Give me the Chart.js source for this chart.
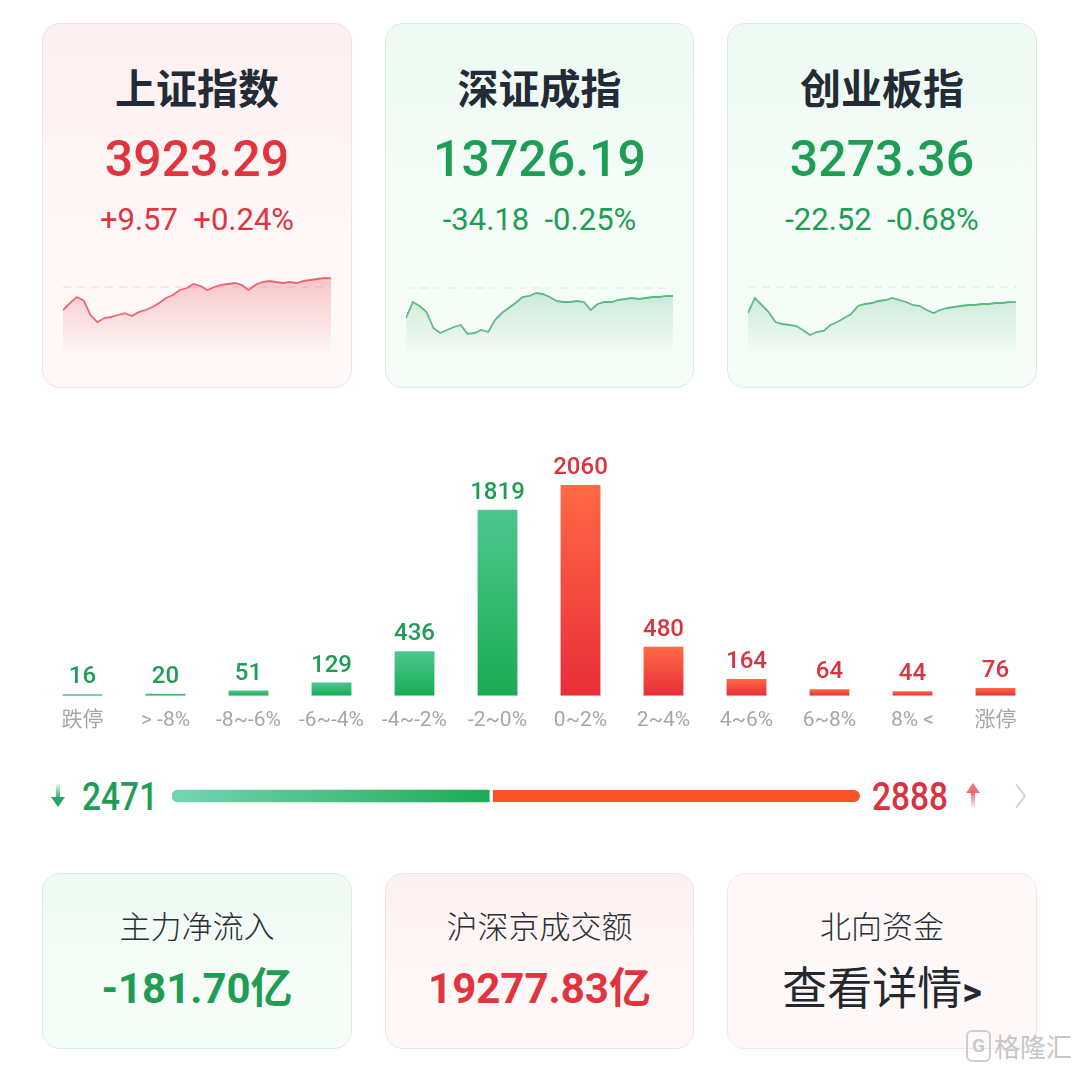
<!DOCTYPE html>
<html>
<head>
<meta charset="utf-8">
<script src="https://cdn.jsdelivr.net/npm/chart.js@4.4.0/dist/chart.umd.min.js"></script>
<style>
  body { margin: 0; width: 1080px; height: 1070px; background: #fff; position: relative; overflow: hidden;
         font-family: Roboto, "Noto Sans CJK SC", sans-serif; }
  .card { position: absolute; border-radius: 18px; box-sizing: border-box; }
  .pink { background: linear-gradient(#fdf0f0, #fff8f8 60%); border: 1px solid #f6dfdf; }
  .mint { background: linear-gradient(#eefaf3, #f6fdf9 60%); border: 1px solid #d7eedf; }
  .t { position: absolute; left: 0; right: 0; text-align: center; line-height: 1; white-space: nowrap; }
  .title { font-family: "Noto Sans CJK SC"; font-weight: 700; font-size: 41px; color: #222b36; }
  .big { font-weight: 500; font-size: 50px; }
  .chg { font-weight: 400; font-size: 31px; }
  .up { color: #e0343f; }
  .down { color: #1f9d55; }
  .lbl { font-family: "Noto Sans CJK SC"; font-weight: 300; font-size: 31px; color: #2a2f36; }
  .val { font-weight: 700; font-size: 42px; }
  canvas { position: absolute; }
  .num { position: absolute; line-height: 1; font-family: Roboto, sans-serif; font-weight: 500;
         font-size: 38px; top: 778px; transform: scaleX(0.88); transform-origin: 0 0; }
</style>
</head>
<body>

<!-- 指数卡片 -->
<div class="card pink" style="left:42px;top:23px;width:310px;height:365px">
  <div class="t title" style="top:42px">上证指数</div>
  <div class="t big up" style="top:110px">3923.29</div>
  <div class="t chg up" style="top:180px">+9.57&nbsp;&nbsp;+0.24%</div>
</div>
<div class="card mint" style="left:385px;top:23px;width:309px;height:365px">
  <div class="t title" style="top:42px">深证成指</div>
  <div class="t big down" style="top:110px">13726.19</div>
  <div class="t chg down" style="top:180px">-34.18&nbsp;&nbsp;-0.25%</div>
</div>
<div class="card mint" style="left:727px;top:23px;width:310px;height:365px">
  <div class="t title" style="top:42px">创业板指</div>
  <div class="t big down" style="top:110px">3273.36</div>
  <div class="t chg down" style="top:180px">-22.52&nbsp;&nbsp;-0.68%</div>
</div>
<canvas id="spSh" width="268" height="88" style="left:63px;top:268px"></canvas>
<canvas id="spSz" width="267" height="88" style="left:406px;top:268px"></canvas>
<canvas id="spCy" width="268" height="88" style="left:748px;top:268px"></canvas>

<!-- 涨跌分布 -->
<canvas id="dist" width="996" height="305" style="left:41px;top:440px"></canvas>

<!-- 涨跌家数 -->
<svg style="position:absolute;left:50px;top:784px" width="16" height="24">
  <defs><linearGradient id="gd" x1="0" y1="0" x2="0" y2="1">
    <stop offset="0" stop-color="#1f9d55" stop-opacity="0.1"/><stop offset="1" stop-color="#1f9d55"/></linearGradient></defs>
  <rect x="6" y="0" width="4" height="16" fill="url(#gd)"/>
  <path d="M1 13 L8 23 L15 13 Z" fill="#2aa765"/>
</svg>
<div class="num down" id="downTxt" style="left:82px"></div>
<canvas id="ratio" width="688" height="16" style="left:172px;top:788px"></canvas>
<div class="num up" id="upTxt" style="left:872px;color:#d8343f"></div>
<svg style="position:absolute;left:965px;top:782px" width="16" height="26">
  <defs><linearGradient id="gu" x1="0" y1="0" x2="0" y2="1">
    <stop offset="0" stop-color="#ef5a60"/><stop offset="1" stop-color="#ef5a60" stop-opacity="0.05"/></linearGradient></defs>
  <path d="M1 11 L8 1 L15 11 Z" fill="#f07076"/>
  <rect x="6" y="9" width="4" height="17" fill="url(#gu)"/>
</svg>
<svg style="position:absolute;left:1012px;top:782px" width="18" height="28">
  <path d="M4 2 L13 14 L4 26" fill="none" stroke="#d2d4d7" stroke-width="2"/>
</svg>

<!-- 资金卡片 -->
<div class="card mint" style="left:42px;top:873px;width:310px;height:176px">
  <div class="t lbl" style="top:35px">主力净流入</div>
  <div class="t val down" style="top:94px">-181.70亿</div>
</div>
<div class="card pink" style="left:385px;top:873px;width:309px;height:176px">
  <div class="t lbl" style="top:35px">沪深京成交额</div>
  <div class="t val up" style="top:94px">19277.83亿</div>
</div>
<div class="card pink" style="left:727px;top:873px;width:310px;height:176px;background:#fff8f8;border-color:#f9e5e5">
  <div class="t lbl" style="top:35px">北向资金</div>
  <div class="t" style="top:89px;font-family:'Noto Sans CJK SC';font-size:45px;font-weight:400;color:#23282f">查看详情<b style="font-family:Roboto;font-size:38px">&gt;</b></div>
</div>
<div style="position:absolute;left:966px;top:1030px;width:25px;height:32px;border:2px solid rgba(195,195,195,0.8);border-radius:6px;box-sizing:border-box;color:rgba(195,195,195,0.9);font:700 19px Roboto;text-align:center;line-height:28px">G</div>
<div style="position:absolute;left:994px;top:1031px;font:400 26px 'Noto Sans CJK SC';line-height:30px;white-space:nowrap;color:rgba(190,190,190,0.9)">格隆汇</div>

<script>
// 涨跌分布
const categories = ['跌停', '> -8%', '-8~-6%', '-6~-4%', '-4~-2%', '-2~0%', '0~2%', '2~4%', '4~6%', '6~8%', '8% <', '涨停'];
const counts = [16, 20, 51, 129, 436, 1819, 2060, 480, 164, 64, 44, 76];

// 分时走势（指数点位）
const shPreClose = 3913.72;
const shLine = [3888.4, 3896.0, 3902.7, 3899.0, 3882.9, 3875.0, 3879.6, 3880.7, 3882.9, 3885.0,
                3881.8, 3886.0, 3888.4, 3891.7, 3896.0, 3901.6, 3904.9, 3910.4, 3912.6, 3917.0,
                3914.8, 3910.4, 3913.7, 3916.0, 3917.0, 3918.1, 3916.0, 3910.4, 3916.0, 3919.2,
                3920.3, 3919.2, 3918.1, 3919.2, 3918.1, 3920.3, 3921.4, 3922.5, 3923.6, 3923.3];
const szPreClose = 13760.37;
const szLine = [13632.3, 13700.6, 13683.5, 13657.9, 13589.6, 13568.2, 13581.0, 13593.9, 13602.4, 13564.0,
                13568.2, 13581.0, 13572.5, 13623.8, 13653.6, 13675.0, 13696.4, 13722.0, 13726.3, 13739.0,
                13734.8, 13722.0, 13704.9, 13700.6, 13700.6, 13704.9, 13700.6, 13666.5, 13692.1, 13700.6,
                13700.6, 13709.2, 13713.4, 13717.7, 13713.4, 13717.7, 13722.0, 13722.0, 13726.3, 13726.2];
const cyPreClose = 3295.88;
const cyLine = [3256.9, 3279.4, 3268.9, 3258.4, 3243.4, 3240.4, 3238.9, 3237.4, 3231.4, 3223.9,
                3228.4, 3229.9, 3238.9, 3243.4, 3249.4, 3255.4, 3267.4, 3270.4, 3271.9, 3274.9,
                3276.4, 3279.4, 3276.4, 3273.4, 3268.9, 3267.4, 3261.4, 3256.9, 3261.4, 3264.4,
                3265.9, 3267.4, 3268.9, 3268.9, 3270.4, 3270.4, 3271.9, 3271.9, 3273.4, 3273.36];

const firstUp = categories.indexOf('0~2%');
const downTotal = counts.slice(0, firstUp).reduce((a, b) => a + b, 0);
const upTotal = counts.slice(firstUp).reduce((a, b) => a + b, 0);
document.getElementById('downTxt').textContent = downTotal;
document.getElementById('upTxt').textContent = upTotal;

// 昨收虚线
const baseLine = {
  id: 'baseLine',
  beforeDatasetsDraw(chart, args, opts) {
    const y = chart.scales.y.getPixelForValue(opts.value);
    const ctx = chart.ctx;
    ctx.save();
    ctx.strokeStyle = opts.color;
    ctx.lineWidth = 1;
    ctx.setLineDash([8, 6]);
    ctx.beginPath();
    ctx.moveTo(chart.chartArea.left, y);
    ctx.lineTo(chart.chartArea.right, y);
    ctx.stroke();
    ctx.restore();
  }
};

function spark(id, data, preClose, yMin, yMax, rgb, dash) {
  new Chart(document.getElementById(id), {
    type: 'line',
    data: {
      labels: data.map((_, i) => i),
      datasets: [{
        data: data,
        borderColor: 'rgba(' + rgb + ',0.8)',
        borderWidth: 1.8,
        pointRadius: 0,
        tension: 0,
        fill: 'start',
        backgroundColor: function (c) {
          const area = c.chart.chartArea;
          if (!area) return 'rgba(' + rgb + ',0.2)';
          const g = c.chart.ctx.createLinearGradient(0, area.top, 0, area.bottom);
          g.addColorStop(0, 'rgba(' + rgb + ',0.32)');
          g.addColorStop(1, 'rgba(' + rgb + ',0)');
          return g;
        }
      }]
    },
    options: {
      responsive: false,
      animation: false,
      events: [],
      layout: { padding: 0 },
      plugins: { legend: { display: false }, tooltip: { enabled: false }, baseLine: { value: preClose, color: dash } },
      scales: { x: { display: false }, y: { display: false, min: yMin, max: yMax } }
    },
    plugins: [baseLine]
  });
}

spark('spSh', shLine, shPreClose, 3837.8, 3934.6, '228,72,84', '#eed9d9');
spark('spSz', szLine, szPreClose, 13470.0, 13845.8, '60,170,105', '#d9e9de');
spark('spCy', cyLine, cyPreClose, 3192.4, 3324.4, '60,170,105', '#d9e9de');

// 柱子数值
const valueLabels = {
  id: 'valueLabels',
  afterDatasetsDraw(chart) {
    const ctx = chart.ctx;
    const meta = chart.getDatasetMeta(0);
    ctx.save();
    ctx.font = '500 24px Roboto';
    ctx.textAlign = 'center';
    ctx.textBaseline = 'alphabetic';
    meta.data.forEach(function (bar, i) {
      ctx.fillStyle = i < firstUp ? '#1f9d55' : '#d9343f';
      ctx.fillText(counts[i], bar.x, bar.y - 11);
    });
    ctx.restore();
  }
};

new Chart(document.getElementById('dist'), {
  type: 'bar',
  data: {
    labels: categories,
    datasets: [{
      data: counts,
      barPercentage: 0.48,
      categoryPercentage: 1,
      backgroundColor: function (c) {
        const chart = c.chart;
        const down = c.dataIndex < firstUp;
        if (!chart.chartArea) return down ? '#2ab266' : '#f0453a';
        const y = chart.scales.y;
        const top = y.getPixelForValue(counts[c.dataIndex]);
        const bottom = y.getPixelForValue(0);
        const g = chart.ctx.createLinearGradient(0, top, 0, Math.max(bottom, top + 1));
        if (down) {
          g.addColorStop(0, '#4cc78f');
          g.addColorStop(1, '#1aab52');
        } else {
          g.addColorStop(0, '#ff6944');
          g.addColorStop(1, '#e92e3a');
        }
        return g;
      }
    }]
  },
  options: {
    responsive: false,
    animation: false,
    events: [],
    layout: { padding: 0 },
    plugins: { legend: { display: false }, tooltip: { enabled: false } },
    scales: {
      x: {
        grid: { display: false, drawTicks: false },
        border: { display: false },
        ticks: { color: '#a3a7ac', padding: 12, font: { family: 'Roboto, "Noto Sans CJK SC"', size: 21 } }
      },
      y: { display: false, min: 0, max: 2500 }
    }
  },
  plugins: [valueLabels]
});

// 涨跌比例条
new Chart(document.getElementById('ratio'), {
  type: 'bar',
  data: {
    labels: [''],
    datasets: [{
      data: [downTotal],
      barThickness: 12,
      borderSkipped: false,
      borderRadius: { topLeft: 6, bottomLeft: 6 },
      backgroundColor: function (c) {
        const chart = c.chart;
        if (!chart.chartArea) return '#2ab266';
        const x = chart.scales.x;
        const g = chart.ctx.createLinearGradient(chart.chartArea.left, 0, x.getPixelForValue(downTotal), 0);
        g.addColorStop(0, '#74d4b3');
        g.addColorStop(1, '#1eab56');
        return g;
      }
    }, {
      data: [upTotal],
      barThickness: 12,
      borderSkipped: false,
      borderRadius: { topRight: 6, bottomRight: 6 },
      borderWidth: { left: 4, top: 0, right: 0, bottom: 0 },
      borderColor: '#ffffff',
      backgroundColor: '#fb5325'
    }]
  },
  options: {
    indexAxis: 'y',
    responsive: false,
    animation: false,
    events: [],
    layout: { padding: 0 },
    plugins: { legend: { display: false }, tooltip: { enabled: false } },
    scales: {
      x: { stacked: true, display: false, min: 0, max: downTotal + upTotal },
      y: { stacked: true, display: false }
    }
  }
});
</script>
</body>
</html>
